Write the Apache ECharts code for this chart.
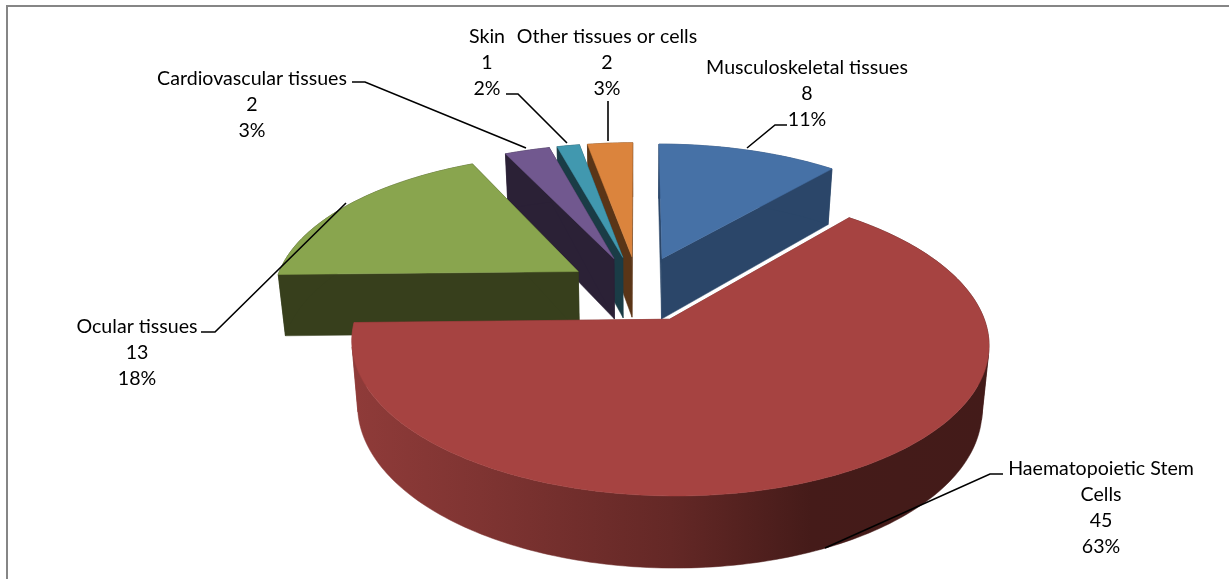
<!DOCTYPE html>
<html>
<head>
<meta charset="utf-8">
<title>Tissue pie</title>
<style>
  html, body { margin: 0; padding: 0; background: #fff; }
  #chart { width: 1229px; height: 579px; }
</style>
<script src="https://cdn.jsdelivr.net/npm/echarts@6/dist/echarts.min.js"></script>
</head>
<body>
<div id="chart"></div>
<script>
// chart data
var categories = ['Musculoskeletal tissues', 'Haematopoietic Stem Cells', 'Ocular tissues', 'Cardiovascular tissues', 'Skin', 'Other tissues or cells'];
var values = [8, 45, 13, 2, 1, 2];
var percents = ['11%', '63%', '18%', '3%', '2%', '3%'];
var topColors = ['#4671a6', '#a64341', '#89a54e', '#71588f', '#4198af', '#db843d'];
var sideColors = ['#2b4669', '#6b2a28', '#373f1c', '#2b2136', '#1a3c46', '#5a3517'];
// back to front
var drawOrder = [5, 4, 3, 2, 0, 1];

// projection of the tilted pie
var cx = 638, cy = 288.5, rx = 304.5, ry = 140;
var explode = 0.235, perspX = 0.1516, perspY = 0.15, depth = 62, depthPersp = 0.116, baseShrink = 0.98;

// label placement [center x, first line y], leader line points
var nameLines = [
  ['Musculoskeletal tissues'],
  ['Haematopoietic Stem', 'Cells'],
  ['Ocular tissues'],
  ['Cardiovascular tissues'],
  ['Skin'],
  ['Other tissues or cells']
];
var labelPos = [[807, 68], [1101, 469], [137, 327], [252, 79], [487, 37], [607, 37]];
var leaders = [
  [[787, 125], [775, 125], [747, 148]],
  [[1003, 474], [990, 474], [825, 548]],
  [[201, 332], [215, 332], [346, 203]],
  [[352, 82], [365, 82], [526, 148]],
  [[506, 94], [518, 94], [567, 143]],
  [[608, 101], [608, 141]]
];

var total = values.reduce(function (a, b) { return a + b; }, 0);
var startAngles = [];
var acc = 0;
values.forEach(function (v) {
  startAngles.push(acc / total * Math.PI * 2);
  acc += v;
});

function sliceEnd(i) {
  return startAngles[i] + values[i] / total * Math.PI * 2;
}

// x,y in pie units, y grows towards the viewer
function projectTop(x, y) {
  return [cx + rx * x / (1 - perspX * y), cy + ry * y / (1 - perspY * y)];
}
function projectBase(x, y) {
  var p = projectTop(x, y);
  var d = depth / (1 - depthPersp * y);
  return [cx + (p[0] - cx) * baseShrink, p[1] + d];
}

function sliceGeom(i) {
  var a0 = startAngles[i], a1 = sliceEnd(i), mid = (a0 + a1) / 2;
  var ox = explode * Math.sin(mid), oy = -explode * Math.cos(mid);
  var rim = [];
  var n = Math.max(4, Math.ceil((a1 - a0) / 0.02));
  for (var k = 0; k <= n; k++) {
    var a = a0 + (a1 - a0) * k / n;
    rim.push([ox + Math.sin(a), oy - Math.cos(a)]);
  }
  return { ox: ox, oy: oy, rim: rim };
}

function poly(points, fill) {
  return { type: 'polygon', shape: { points: points }, style: { fill: fill, stroke: fill, lineWidth: 0.5 } };
}

function redWall() {
  return new echarts.graphic.LinearGradient(353, 0, 989, 0, [
    { offset: 0, color: '#8f3b39' },
    { offset: 0.2, color: '#7f3432' },
    { offset: 0.5, color: '#642826' },
    { offset: 0.72, color: '#451b19' },
    { offset: 1, color: '#431b19' }
  ], true);
}

// signed area of the wall step between rim points k and k+1
function stepSign(wall, base, k) {
  var q = [wall[k], wall[k + 1], base[k + 1], base[k]];
  var area = 0;
  for (var j = 0; j < 4; j++) {
    var a = q[j], b = q[(j + 1) % 4];
    area += a[0] * b[1] - b[0] * a[1];
  }
  return area >= 0 ? 1 : -1;
}

function renderSlice(params, api) {
  var i = drawOrder[params.dataIndex];
  var g = sliceGeom(i);
  var side = i === 1 ? redWall() : sideColors[i];
  var children = [];
  var first = g.rim[0], last = g.rim[g.rim.length - 1];
  var apexT = projectTop(g.ox, g.oy), apexB = projectBase(g.ox, g.oy);

  // radial walls
  children.push(poly([apexT, projectTop(first[0], first[1]), projectBase(first[0], first[1]), apexB], sideColors[i]));
  children.push(poly([apexT, projectTop(last[0], last[1]), projectBase(last[0], last[1]), apexB], sideColors[i]));

  // outer wall, split where it folds at the silhouette so the fold stays filled
  var wall = g.rim.map(function (p) { return projectTop(p[0], p[1]); });
  var base = g.rim.map(function (p) { return projectBase(p[0], p[1]); });
  var from = 0;
  for (var k = 0; k < wall.length - 1; k++) {
    var atEnd = k === wall.length - 2;
    if (atEnd || stepSign(wall, base, k) !== stepSign(wall, base, k + 1)) {
      children.push(poly(wall.slice(from, k + 2).concat(base.slice(from, k + 2).reverse()), side));
      from = k + 1;
    }
  }

  // top face
  children.push(poly([apexT].concat(wall), topColors[i]));

  return { type: 'group', children: children };
}

function renderLabel(params, api) {
  var i = params.dataIndex;
  var lines = nameLines[i].concat([String(values[i]), percents[i]]);
  var children = [];
  lines.forEach(function (t, k) {
    children.push({
      type: 'text',
      style: {
        x: labelPos[i][0], y: labelPos[i][1] + k * 25.8,
        text: t, align: 'center', verticalAlign: 'middle',
        font: '19.6px Lato', fill: '#000'
      }
    });
  });
  children.push({
    type: 'polyline',
    shape: { points: leaders[i] },
    style: { stroke: '#000', lineWidth: 1.6, fill: null }
  });
  return { type: 'group', children: children };
}

var chart = echarts.init(document.getElementById('chart'));
chart.setOption({
  animation: false,
  backgroundColor: '#fff',
  graphic: [{
    type: 'polyline',
    z: 0,
    shape: { points: [[7, 579], [7, 6], [1229, 6]] },
    style: { stroke: '#868686', lineWidth: 2, fill: null }
  }],
  series: [
    { type: 'custom', coordinateSystem: 'none', silent: true, z: 2, data: drawOrder, renderItem: renderSlice },
    { type: 'custom', coordinateSystem: 'none', silent: true, z: 3, data: categories, renderItem: renderLabel }
  ]
});
</script>
</body>
</html>
